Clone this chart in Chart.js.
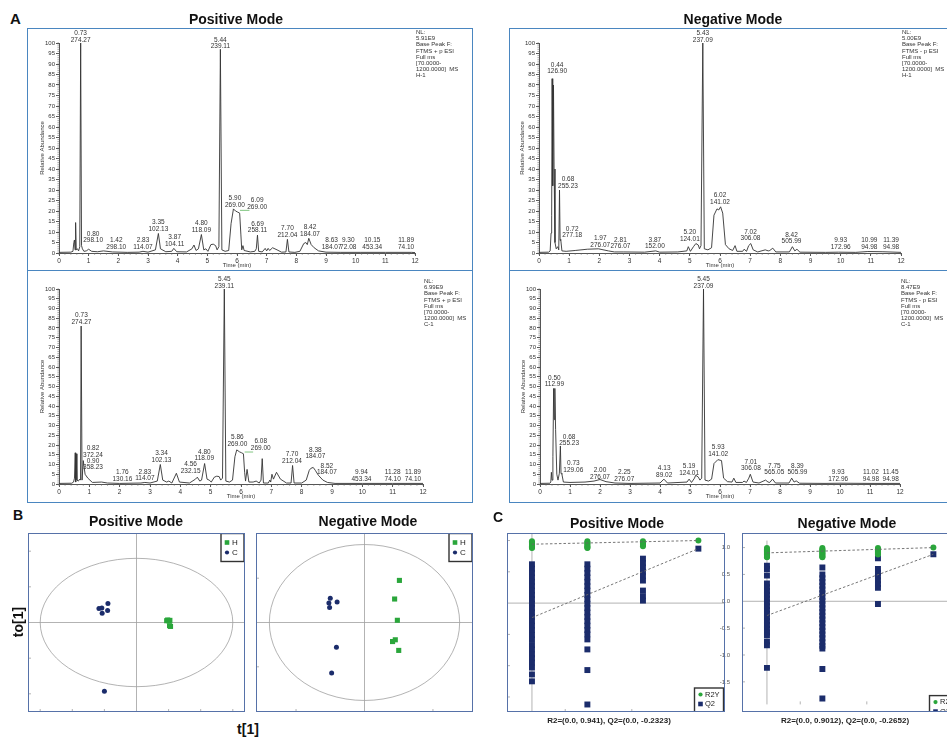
<!DOCTYPE html>
<html>
<head>
<meta charset="utf-8">
<script src="https://cdn.jsdelivr.net/npm/chart.js@4/dist/chart.umd.min.js"></script>
<style>
body{margin:0;background:#fff;overflow:hidden;width:947px;height:738px;position:relative;font-family:Arial,"Liberation Sans",sans-serif;color:#111}
canvas{position:absolute}
.frA{position:absolute;border:1.5px solid #4a86c0;box-sizing:border-box;pointer-events:none}
.frB{position:absolute;border:1.5px solid #5671a8;box-sizing:border-box;pointer-events:none}
.ttl{position:absolute;font-weight:bold;font-size:14px;line-height:14px;transform:translateX(-50%);white-space:nowrap}
.let{position:absolute;font-weight:bold;font-size:15px;line-height:15px}
.cap{position:absolute;font-weight:bold;font-size:8px;line-height:10px;transform:translateX(-50%);white-space:nowrap;color:#222}
</style>
</head>
<body>
<!-- panel A -->
<canvas id="posH" width="446" height="243" style="left:27px;top:28px"></canvas>
<canvas id="posC" width="446" height="233" style="left:27px;top:270px"></canvas>
<canvas id="negH" width="460" height="243" style="left:509px;top:28px"></canvas>
<canvas id="negC" width="460" height="233" style="left:509px;top:270px"></canvas>
<div class="frA" style="left:27px;top:28px;width:446px;height:243px"></div>
<div class="frA" style="left:27px;top:270px;width:446px;height:233px"></div>
<div class="frA" style="left:509px;top:28px;width:460px;height:243px"></div>
<div class="frA" style="left:509px;top:270px;width:460px;height:233px"></div>
<div class="let" style="left:10px;top:11px">A</div>
<div class="ttl" style="left:236px;top:12px">Positive Mode</div>
<div class="ttl" style="left:733px;top:12px">Negative Mode</div>

<!-- panel B -->
<canvas id="scorePos" width="217" height="179" style="left:28px;top:533px"></canvas>
<canvas id="scoreNeg" width="217" height="179" style="left:256px;top:533px"></canvas>
<div class="frB" style="left:28px;top:533px;width:217px;height:179px"></div>
<div class="frB" style="left:256px;top:533px;width:217px;height:179px"></div>
<div class="let" style="left:13px;top:508px;font-size:14px">B</div>
<div class="ttl" style="left:136px;top:514px">Positive Mode</div>
<div class="ttl" style="left:368px;top:514px">Negative Mode</div>
<div class="ttl" style="left:18px;top:622px;transform:translate(-50%,-50%) rotate(-90deg)">to[1]</div>
<div class="ttl" style="left:248px;top:722px">t[1]</div>

<!-- panel C -->
<canvas id="permPos" width="218" height="179" style="left:507px;top:533px"></canvas>
<canvas id="permNeg" width="242" height="179" style="left:718px;top:533px"></canvas>
<div class="frB" style="left:507px;top:533px;width:218px;height:179px"></div>
<div class="frB" style="left:742px;top:533px;width:218px;height:179px"></div>
<div class="let" style="left:493px;top:510px;font-size:14px">C</div>
<div class="ttl" style="left:617px;top:516px">Positive Mode</div>
<div class="ttl" style="left:847px;top:516px">Negative Mode</div>
<div class="cap" style="left:609px;top:716px">R2=(0.0, 0.941), Q2=(0.0, -0.2323)</div>
<div class="cap" style="left:845px;top:716px">R2=(0.0, 0.9012), Q2=(0.0, -0.2652)</div>

<script>
Chart.defaults.font.family = 'Arial, "Liberation Sans", sans-serif';

// ---------- A : base peak chromatograms, [time (min), relative abundance] ----------
const posHTrace = [[0,0.3],[0.4,0.4],[0.47,0.8],[0.5,5],[0.52,6.2],[0.54,1.5],[0.56,14.5],[0.58,1.5],[0.62,2],[0.66,1],[0.7,3],[0.73,100],[0.76,3.5],[0.79,2],[0.84,0.8],[0.92,1],[1.0,1.8],[1.1,0.8],[1.3,0.6],[1.5,1],[1.8,0.5],[2.3,0.3],[2.7,0.4],[2.83,0.8],[3.0,0.4],[3.25,1.5],[3.35,9.3],[3.42,2],[3.6,0.6],[3.8,0.8],[3.87,2.2],[3.97,0.6],[4.3,0.5],[4.48,2],[4.55,3.8],[4.62,1.2],[4.7,2],[4.8,8.8],[4.88,1.5],[4.95,2],[5.02,0.8],[5.12,4],[5.2,4.2],[5.28,3.5],[5.33,1.5],[5.39,3],[5.44,97],[5.49,1.5],[5.6,0.8],[5.72,1.2],[5.8,14],[5.88,21],[5.95,20],[6.02,19.5],[6.09,19],[6.13,9],[6.16,1.5],[6.2,3.5],[6.24,1.2],[6.3,1],[6.45,0.5],[6.6,0.8],[6.65,2],[6.69,8.5],[6.73,0.8],[6.85,0.5],[6.95,2.2],[7.0,1],[7.05,2.2],[7.1,1.2],[7.2,2.5],[7.35,1.5],[7.5,0.4],[7.65,0.5],[7.7,6.5],[7.75,0.5],[7.95,0.3],[8.12,0.8],[8.25,4.5],[8.32,5],[8.37,4],[8.42,7],[8.5,4],[8.6,2.5],[8.75,1],[9.0,0.4],[9.5,0.3],[10.15,0.3],[11,0.3],[11.89,0.3],[12,0.2]];
const negHTrace = [[0,0.3],[0.32,0.4],[0.37,1],[0.4,9.5],[0.42,18],[0.435,83],[0.455,32],[0.48,80],[0.5,40],[0.53,5],[0.57,2],[0.62,3],[0.655,1.5],[0.68,30],[0.7,6],[0.72,6.5],[0.76,1],[0.9,0.8],[1.2,1.2],[1.6,1.8],[1.97,2],[2.3,1],[2.5,0.5],[2.81,0.5],[3.5,0.4],[3.87,1],[4.0,0.4],[4.6,0.5],[4.9,1],[4.95,3],[5.02,0.8],[5.12,3],[5.2,4.5],[5.28,3.8],[5.32,2],[5.37,3.5],[5.43,100],[5.48,2],[5.6,1.5],[5.72,2.5],[5.8,18],[5.9,21],[5.96,20.5],[6.02,22],[6.09,19],[6.18,4],[6.3,2],[6.42,1.2],[6.5,3.5],[6.56,0.8],[6.75,0.8],[6.8,1.8],[6.88,0.8],[6.95,3.5],[7.02,4.5],[7.1,1.5],[7.25,0.5],[7.5,1.5],[7.6,1],[7.65,1.2],[7.75,2.3],[7.85,0.5],[8.3,0.5],[8.4,3],[8.48,1],[8.55,1.8],[8.65,0.4],[9.5,0.3],[9.93,0.4],[10.5,0.3],[10.9,0.7],[11.4,0.6],[12,0.3]];
const posCTrace = [[0,0.3],[0.42,0.4],[0.48,1],[0.51,3],[0.535,16],[0.55,1],[0.565,15.5],[0.59,2],[0.64,1.5],[0.68,2.5],[0.71,2],[0.73,81],[0.76,2],[0.8,12],[0.86,5],[0.95,3],[1.1,0.8],[1.4,1],[1.6,0.5],[2.0,0.3],[2.7,0.5],[2.83,0.8],[3.0,0.5],[3.24,1.5],[3.34,10],[3.42,2],[3.55,1],[3.62,1.5],[3.72,0.5],[3.87,5.5],[3.97,1],[4.3,0.5],[4.5,2.5],[4.56,3.5],[4.64,1.5],[4.7,2],[4.8,10.5],[4.88,2.5],[4.95,2],[5.02,1],[5.12,3.5],[5.2,4],[5.28,3.8],[5.33,2],[5.39,3],[5.45,100],[5.5,1.5],[5.62,1],[5.72,2],[5.8,14],[5.86,17.5],[5.95,16.5],[6.02,16],[6.08,15.5],[6.12,6],[6.15,1.5],[6.2,7.5],[6.26,1],[6.4,1],[6.5,1.5],[6.6,0.5],[6.66,2],[6.7,13],[6.74,0.5],[6.9,0.5],[6.95,2],[6.98,1],[7.02,5],[7.07,2.5],[7.17,6],[7.3,2.5],[7.5,0.5],[7.65,0.5],[7.7,9.5],[7.75,0.5],[8.0,0.5],[8.15,2],[8.25,7],[8.3,8],[8.38,8.5],[8.45,7],[8.55,4.5],[8.7,2],[8.85,0.8],[9.1,0.3],[10,0.3],[11,0.3],[12,0.3]];
const negCTrace = [[0,0.3],[0.33,0.4],[0.36,1],[0.38,6],[0.4,2],[0.43,14],[0.455,49],[0.475,33],[0.495,49],[0.52,28],[0.56,5],[0.6,2],[0.645,5.5],[0.68,19.5],[0.7,5.5],[0.73,5],[0.78,1],[1.0,0.8],[1.5,1],[1.8,1.5],[2.0,2.3],[2.2,1.2],[2.5,0.5],[3.0,0.3],[4.0,0.5],[4.13,2.5],[4.25,0.5],[4.9,1],[4.97,2.5],[5.05,0.8],[5.15,3],[5.19,4.5],[5.28,3.5],[5.33,2],[5.39,3],[5.45,100],[5.5,2],[5.62,1.5],[5.72,2.5],[5.8,10.5],[5.93,12.5],[6.05,12],[6.12,3],[6.25,1.2],[6.4,1],[6.46,3],[6.53,0.8],[6.75,0.8],[6.8,1.5],[6.88,0.8],[6.96,3],[7.01,5],[7.1,1],[7.3,0.5],[7.52,2],[7.6,1],[7.66,0.8],[7.75,2.5],[7.85,0.5],[8.3,0.5],[8.39,3],[8.47,1],[8.54,1.6],[8.65,0.4],[9.5,0.3],[10,0.4],[11,0.3],[12,0.3]];

// peak annotations: [time, abundance under the text, RT, m/z]
const posHPeaks = [[0.73,100,'0.73','274.27'],[5.44,97,'5.44','239.11'],[1.15,4.5,'0.80','298.10'],[1.93,1.5,'1.42','298.10'],[2.83,1.5,'2.83','114.07'],[3.35,10,'3.35','102.13'],[3.9,2.8,'3.87','104.11'],[4.8,9.5,'4.80','118.09'],[5.93,21.5,'5.90','269.00'],[6.68,20.5,'6.09','269.00'],[6.69,9.2,'6.69','258.11'],[7.7,7.2,'7.70','212.04'],[8.46,7.7,'8.42','184.07'],[9.19,1.5,'8.63','184.07'],[9.75,1.5,'9.30','72.08'],[10.56,1.5,'10.15','453.34'],[11.7,1.5,'11.89','74.10']];
const negHPeaks = [[0.6,85,'0.44','126.90'],[0.96,30.5,'0.68','255.23'],[1.1,7,'0.72','277.18'],[2.03,2.4,'1.97','276.07'],[2.7,1.6,'2.81','276.07'],[3.84,1.6,'3.87','152.00'],[5.0,5.2,'5.20','124.01'],[5.43,100,'5.43','237.09'],[6.0,23,'6.02','141.02'],[7.01,5.5,'7.02','306.08'],[8.37,4,'8.42','505.99'],[10.0,1.4,'9.93','172.96'],[10.95,1.4,'10.99','94.98'],[11.67,1.4,'11.39','94.98']];
const posCPeaks = [[0.74,81.5,'0.73','274.27'],[1.12,13.3,'0.82','372.24'],[1.12,7,'0.90','358.23'],[2.09,1,'1.76','130.16'],[2.83,1.2,'2.83','114.07'],[3.38,10.8,'3.34','102.13'],[4.34,5.1,'4.56','232.15'],[4.79,11.6,'4.80','118.09'],[5.45,100,'5.45','239.11'],[5.88,19,'5.86','269.00'],[6.65,16.8,'6.08','269.00'],[7.68,10.3,'7.70','212.04'],[8.45,12.5,'8.38','184.07'],[8.83,4.4,'8.52','184.07'],[9.97,0.9,'9.94','453.34'],[11.0,0.9,'11.28','74.10'],[11.67,0.9,'11.89','74.10']];
const negCPeaks = [[0.48,49.5,'0.50','112.99'],[0.97,19.3,'0.68','255.23'],[1.11,5.6,'0.73','129.06'],[2.0,2.2,'2.00','276.07'],[2.81,1.0,'2.25','276.07'],[4.14,3,'4.13','89.02'],[4.97,4,'5.19','124.01'],[5.45,100,'5.45','237.09'],[5.94,14,'5.93','141.02'],[7.03,6.5,'7.01','306.08'],[7.81,4.3,'7.75','565.05'],[8.58,4.3,'8.39','505.99'],[9.94,0.9,'9.93','172.96'],[11.03,0.9,'11.02','94.98'],[11.69,0.9,'11.45','94.98']];

// green leader lines [t1, y1, t2, y2]
const posHLeaders = [[6.1,20.3,6.42,20.3]];
const posCLeaders = [[6.12,16.4,6.4,16.4]];

const posHInfo = ['NL:','5.91E9','Base Peak F:','FTMS + p ESI','Full ms','[70.0000-','1200.0000]  MS','H-1'];
const negHInfo = ['NL:','5.00E9','Base Peak F:','FTMS - p ESI','Full ms','[70.0000-','1200.0000]  MS','H-1'];
const posCInfo = ['NL:','6.99E9','Base Peak F:','FTMS + p ESI','Full ms','[70.0000-','1200.0000]  MS','C-1'];
const negCInfo = ['NL:','8.47E9','Base Peak F:','FTMS - p ESI','Full ms','[70.0000-','1200.0000]  MS','C-1'];

// ---------- B : OPLS-DA scores [t[1], to[1]] ----------
const posScoreH = [[0.97,0.07],[1.0,0.05],[0.94,0.05],[1.04,0.06],[1.06,-0.11],[1.03,-0.09]];
const posScoreC = [[-1.17,0.39],[-1.08,0.41],[-0.89,0.53],[-0.90,0.34],[-1.07,0.26],[-1.0,-1.93]];
const negScoreH = [[0.51,0.95],[0.44,0.53],[0.48,0.05],[0.45,-0.39],[0.41,-0.43],[0.50,-0.63]];
const negScoreC = [[-0.50,0.55],[-0.52,0.44],[-0.51,0.34],[-0.40,0.46],[-0.41,-0.56],[-0.48,-1.14]];

// ---------- C : permutation tests ----------
const permX = [0, 0.333, 0.667, 1.0];
const posR2Y = [[0.99,0.97,0.95,0.93,0.91,0.89,0.88],[0.99,0.97,0.95,0.93,0.91,0.89,0.88],[0.99,0.97,0.95,0.93,0.91],[1.0]];
const posQ2 = [
  [0.62,0.55,0.48,0.41,0.34,0.27,0.2,0.13,0.06,-0.01,-0.08,-0.15,-0.22,-0.29,-0.36,-0.43,-0.51,-0.58,-0.67,-0.74,-0.82,-0.88,-0.95,-1.03,-1.14,-1.25],
  [0.62,0.55,0.48,0.41,0.34,0.27,0.2,0.13,0.06,-0.01,-0.08,-0.15,-0.22,-0.29,-0.36,-0.43,-0.5,-0.58,-0.74,-1.07,-1.62],
  [0.71,0.64,0.57,0.5,0.43,0.36,0.2,0.11,0.04],
  [0.87]];
const negR2Y = [[0.99,0.97,0.95,0.93,0.91,0.89,0.87,0.85,0.83,0.82],[0.99,0.97,0.95,0.93,0.91,0.89,0.87,0.85,0.83,0.82],[0.99,0.97,0.95,0.93,0.91,0.89,0.87],[1.0]];
const negQ2 = [
  [0.66,0.6,0.48,0.33,0.26,0.19,0.12,0.05,-0.02,-0.09,-0.16,-0.23,-0.3,-0.37,-0.44,-0.51,-0.58,-0.63,-0.75,-0.82,-1.24],
  [0.63,0.5,0.43,0.36,0.29,0.22,0.15,0.08,0.01,-0.06,-0.13,-0.2,-0.27,-0.34,-0.41,-0.48,-0.55,-0.62,-0.69,-0.76,-0.83,-0.88,-1.26,-1.81],
  [0.8,0.6,0.53,0.46,0.39,0.32,0.25,-0.05],
  [0.875]];
const posR2Line = [[0,0.941],[1,1.0]];
const posQ2Line = [[0,-0.2323],[1,0.87]];
const negR2Line = [[0,0.9012],[1,1.0]];
const negQ2Line = [[0,-0.2652],[1,0.875]];

const GREEN = '#2aa63b', NAVY = '#1b2c6b', FONT = 'Arial, "Liberation Sans", sans-serif';
const xy = pts => pts.map(p => ({x: p[0], y: p[1]}));

function chromPlugin(peaks, info, leaders, infoY) {
  return {
    id: 'chromText',
    afterDatasetsDraw(chart) {
      const ctx = chart.ctx, a = chart.chartArea, x = chart.scales.x, y = chart.scales.y;
      ctx.save();
      // minor ticks
      ctx.strokeStyle = '#666'; ctx.lineWidth = 0.6; ctx.beginPath();
      for (let i = 0; i <= 60; i++) { const px = x.getPixelForValue(i / 5); ctx.moveTo(px, a.bottom); ctx.lineTo(px, a.bottom + 1.8); }
      for (let v = 0; v <= 100; v++) { const py = y.getPixelForValue(v); ctx.moveTo(a.left, py); ctx.lineTo(a.left - 1.6, py); }
      ctx.stroke();
      ctx.strokeStyle = '#4cae4c'; ctx.lineWidth = 0.7; ctx.beginPath();
      leaders.forEach(l => { ctx.moveTo(x.getPixelForValue(l[0]), y.getPixelForValue(l[1])); ctx.lineTo(x.getPixelForValue(l[2]), y.getPixelForValue(l[3])); });
      ctx.stroke();
      ctx.fillStyle = '#333'; ctx.font = '6.5px ' + FONT; ctx.textAlign = 'center';
      peaks.forEach(p => {
        const px = x.getPixelForValue(p[0]), py = y.getPixelForValue(p[1]) - 1.2;
        ctx.fillText(p[3], px, py); ctx.fillText(p[2], px, py - 6.6);
      });
      ctx.font = '6px ' + FONT; ctx.textAlign = 'left';
      info.forEach((s, i) => ctx.fillText(s, a.right + 1, infoY + i * 6.2));
      ctx.textAlign = 'center';
      ctx.fillText('Time (min)', x.getPixelForValue(6), a.bottom + 14);
      ctx.translate(a.left - 15.5, (a.top + a.bottom) / 2); ctx.rotate(-Math.PI / 2);
      ctx.fillText('Relative Abundance', 0, 0);
      ctx.restore();
    }
  };
}

function chrom(id, trace, peaks, info, leaders, g) {
  new Chart(document.getElementById(id), {
    type: 'line',
    data: {datasets: [{data: xy(trace), borderColor: '#333', borderWidth: 0.9, pointRadius: 0, tension: 0, fill: false, clip: false}]},
    options: {
      responsive: false, animation: false, events: [],
      layout: {autoPadding: false, padding: {top: g.top, right: g.right, left: 0, bottom: 0}},
      plugins: {legend: {display: false}, tooltip: {enabled: false}},
      scales: {
        x: {type: 'linear', min: 0, max: 12,
          ticks: {stepSize: 1, autoSkip: false, maxRotation: 0, padding: 1, color: '#333', font: {size: 6.5}},
          grid: {drawOnChartArea: false, tickLength: 3, color: '#555'},
          border: {color: '#555', width: 1},
          afterFit: s => { s.height = g.xh; }},
        y: {min: 0, max: 100,
          ticks: {stepSize: 5, autoSkip: false, padding: 1, color: '#333', font: {size: 6}},
          grid: {drawOnChartArea: false, tickLength: 3, color: '#555'},
          border: {color: '#555', width: 1},
          afterFit: s => { s.width = g.yw; }}
      }
    },
    plugins: [chromPlugin(peaks, info, leaders, g.infoY)]
  });
}

chrom('posH', posHTrace, posHPeaks, posHInfo, posHLeaders, {top: 15, right: 58, xh: 18, yw: 32, infoY: 6});
chrom('negH', negHTrace, negHPeaks, negHInfo, [], {top: 15, right: 68, xh: 18, yw: 30, infoY: 6});
chrom('posC', posCTrace, posCPeaks, posCInfo, posCLeaders, {top: 19, right: 50, xh: 19, yw: 32, infoY: 13});
chrom('negC', negCTrace, negCPeaks, negCInfo, [], {top: 19, right: 69, xh: 19, yw: 31, infoY: 13});

function drawLegend(ctx, box, items, fs) {
  ctx.fillStyle = '#fff'; ctx.fillRect(box[0], box[1], box[2], box[3]);
  ctx.strokeStyle = '#333'; ctx.lineWidth = 1.4; ctx.strokeRect(box[0], box[1], box[2], box[3]);
  ctx.font = fs + 'px ' + FONT; ctx.textAlign = 'left'; ctx.textBaseline = 'middle';
  items.forEach((it, i) => {
    const mx = box[0] + 6, my = box[1] + box[4] + i * box[5];
    ctx.fillStyle = it[1];
    if (it[2] === 'rect') ctx.fillRect(mx - 2.3, my - 2.3, 4.6, 4.6);
    else { ctx.beginPath(); ctx.arc(mx, my, 2.1, 0, 2 * Math.PI); ctx.fill(); }
    ctx.fillStyle = '#222'; ctx.fillText(it[0], mx + box[6], my);
  });
}

function decoPlugin(o) {
  return {
    id: 'deco',
    beforeDatasetsDraw(chart) {
      const ctx = chart.ctx, a = chart.chartArea, x = chart.scales.x, y = chart.scales.y;
      const cx = x.getPixelForValue(0), cy = y.getPixelForValue(0);
      ctx.save();
      ctx.strokeStyle = '#a0a0a0'; ctx.lineWidth = 0.8; ctx.beginPath();
      ctx.moveTo(cx, a.top); ctx.lineTo(cx, a.bottom); ctx.moveTo(a.left, cy); ctx.lineTo(a.right, cy);
      o.ticksX.forEach(v => { const p = x.getPixelForValue(v); ctx.moveTo(p, a.bottom); ctx.lineTo(p, a.bottom - 3); });
      o.ticksY.forEach(v => { const p = y.getPixelForValue(v); ctx.moveTo(a.left, p); ctx.lineTo(a.left + 3, p); });
      ctx.stroke();
      if (o.ellipse) {
        ctx.beginPath();
        ctx.ellipse(cx, cy, Math.abs(x.getPixelForValue(o.ellipse[0]) - cx), Math.abs(y.getPixelForValue(o.ellipse[1]) - cy), 0, 0, 2 * Math.PI);
        ctx.stroke();
      }
      ctx.restore();
    },
    afterDraw(chart) {
      const a = chart.chartArea, l = o.legend;
      chart.ctx.save();
      drawLegend(chart.ctx, [a.left + l.x, a.top + l.y, l.w, l.h, l.first, l.step, l.gap], l.items, l.fs);
      chart.ctx.restore();
    }
  };
}

function scores(id, hPts, cPts, xr, yr, ell, ticksX, ticksY) {
  new Chart(document.getElementById(id), {
    type: 'scatter',
    data: {datasets: [
      {data: xy(hPts), pointStyle: 'rect', pointRadius: 3.6, backgroundColor: GREEN, borderColor: GREEN, borderWidth: 0},
      {data: xy(cPts), pointStyle: 'circle', pointRadius: 2.5, backgroundColor: NAVY, borderColor: NAVY, borderWidth: 0}
    ]},
    options: {
      responsive: false, animation: false, events: [],
      layout: {autoPadding: false, padding: 0},
      plugins: {legend: {display: false}, tooltip: {enabled: false}},
      scales: {x: {display: false, min: xr[0], max: xr[1]}, y: {display: false, min: yr[0], max: yr[1]}}
    },
    plugins: [decoPlugin({ellipse: ell, ticksX, ticksY,
      legend: {x: 193, y: 0.5, w: 23, h: 28, first: 9, step: 10, gap: 5, fs: 8, items: [['H', GREEN, 'rect'], ['C', NAVY, 'circle']]}})]
  });
}

scores('scorePos', posScoreH, posScoreC, [-3.38, 3.38], [-2.51, 2.51], [3.0, 1.8], [-3, -2, -1, 1, 2, 3], [-2, -1, 1, 2]);
scores('scoreNeg', negScoreH, negScoreC, [-1.585, 1.585], [-2.02, 2.02], [1.39, 1.76], [-1, 1], [-1, 1]);

function perm(id, r2y, q2, r2Line, q2Line, yr, yw) {
  const cols = (c) => c.flatMap((vals, i) => vals.map(v => ({x: permX[i], y: v})));
  new Chart(document.getElementById(id), {
    type: 'scatter',
    data: {datasets: [
      {data: xy(r2Line), showLine: true, borderColor: '#666', borderWidth: 0.9, borderDash: [2.5, 2], pointRadius: 0},
      {data: xy(q2Line), showLine: true, borderColor: '#666', borderWidth: 0.9, borderDash: [2.5, 2], pointRadius: 0},
      {data: cols(r2y), pointStyle: 'circle', pointRadius: 3, backgroundColor: GREEN, borderWidth: 0},
      {data: cols(q2), pointStyle: 'rect', pointRadius: 4.2, backgroundColor: NAVY, borderWidth: 0}
    ]},
    options: {
      responsive: false, animation: false, events: [],
      layout: {autoPadding: false, padding: 0},
      plugins: {legend: {display: false}, tooltip: {enabled: false}},
      scales: {
        x: {display: false, min: -0.15, max: 1.16},
        y: {display: yw > 0, min: yr[0], max: yr[1],
          afterBuildTicks: s => { s.ticks = [-1.5, -1, -0.5, 0, 0.5, 1].map(v => ({value: v})); },
          ticks: {padding: 4, color: '#555', font: {size: 6}, callback: v => v.toFixed(1)},
          grid: {display: false}, border: {display: false},
          afterFit: s => { s.width = yw; }}
      }
    },
    plugins: [decoPlugin({ticksX: [0.2, 0.6], ticksY: [-1.5, -1, -0.5, 0.5, 1],
      legend: {x: 187.5, y: 155, w: 29, h: 24, first: 6.5, step: 9.5, gap: 4.5, fs: 7.5, items: [['R2Y', GREEN, 'circle'], ['Q2', NAVY, 'rect']]}})]
  });
}

perm('permPos', posR2Y, posQ2, posR2Line, posQ2Line, [-1.74, 1.12], 0);
perm('permNeg', negR2Y, negQ2, negR2Line, negQ2Line, [-1.92, 1.13], 24);
</script>
</body>
</html>
